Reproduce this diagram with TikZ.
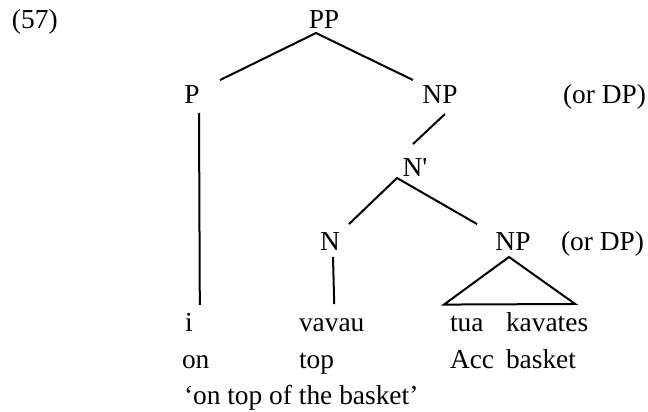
\documentclass[tikz,border=0pt]{standalone}
\usepackage{fontspec}
\setmainfont{Liberation Serif}

\begin{document}
\begin{tikzpicture}[x=1pt,y=1pt,
                    font=\fontsize{27.4}{32}\selectfont,
                    line width=2pt,
                    cat/.style={inner sep=0pt,anchor=base},
                    mot/.style={inner sep=0pt,anchor=base west}]
                  \useasboundingbox (0,0) rectangle (648,-412);

                  % Numero de l'exemple
                  \node[mot] (num) at (11,-29) {(57)};

                  % Categories
                  \node[cat] (PP) at (324,-29) {PP};
                  \node[cat] (P) at (192,-103) {P};
                  \node[cat] (NP) at (440,-103) {NP};
                  \node[mot] (DPa) at (562,-103) {(or DP)};
                  \node[cat] (Nbar) at (415,-176) {N\textquotesingle};
                  \node[cat] (N) at (330,-250) {N};
                  \node[cat] (NPb) at (513,-250) {NP};
                  \node[mot] (DPb) at (560,-250) {(or DP)};

                  % Mots et gloses
                  \foreach \nom/\x/\txt in {i/184/i, vavau/298/vavau, tua/449/tua, kavates/505/kavates} {
                          \node[mot] (\nom) at (\x,-331) {\txt};
                      }
                  \foreach \nom/\x/\txt in {on/181/on, top/298/top, Acc/449/Acc, basket/505/basket} {
                          \node[mot] (g\nom) at (\x,-368) {\txt};
                      }
                  \node[mot] (trad) at (183,-404) {‘on top of the basket’};

                  % Branches
                  \draw ([xshift=28,yshift=4]P.north) -- ([xshift=-8,yshift=-3]PP.south)
                        -- ([xshift=-27,yshift=4]NP.north);
                  \draw ([xshift=5,yshift=-10]NP.south) -- ([xshift=-2,yshift=13]Nbar.north);
                  \draw ([xshift=19,yshift=7]N.north) -- ([xshift=-18,yshift=-1]Nbar.south)
                        -- ([xshift=-36,yshift=7]NPb.north);
                  \draw ([xshift=7,yshift=-9]P.south) -- ([xshift=11,yshift=7]i.north);
                  \draw ([xshift=3,yshift=-6]N.south) -- ([xshift=2.5,yshift=13]vavau.north);

                  % Triangle
                  \draw ([xshift=-4,yshift=-6]NPb.south) -- ([xshift=-5,yshift=10]tua.north west)
                        -- ([xshift=-14,yshift=7]kavates.north east) -- cycle;
              \end{tikzpicture}
\end{document}
